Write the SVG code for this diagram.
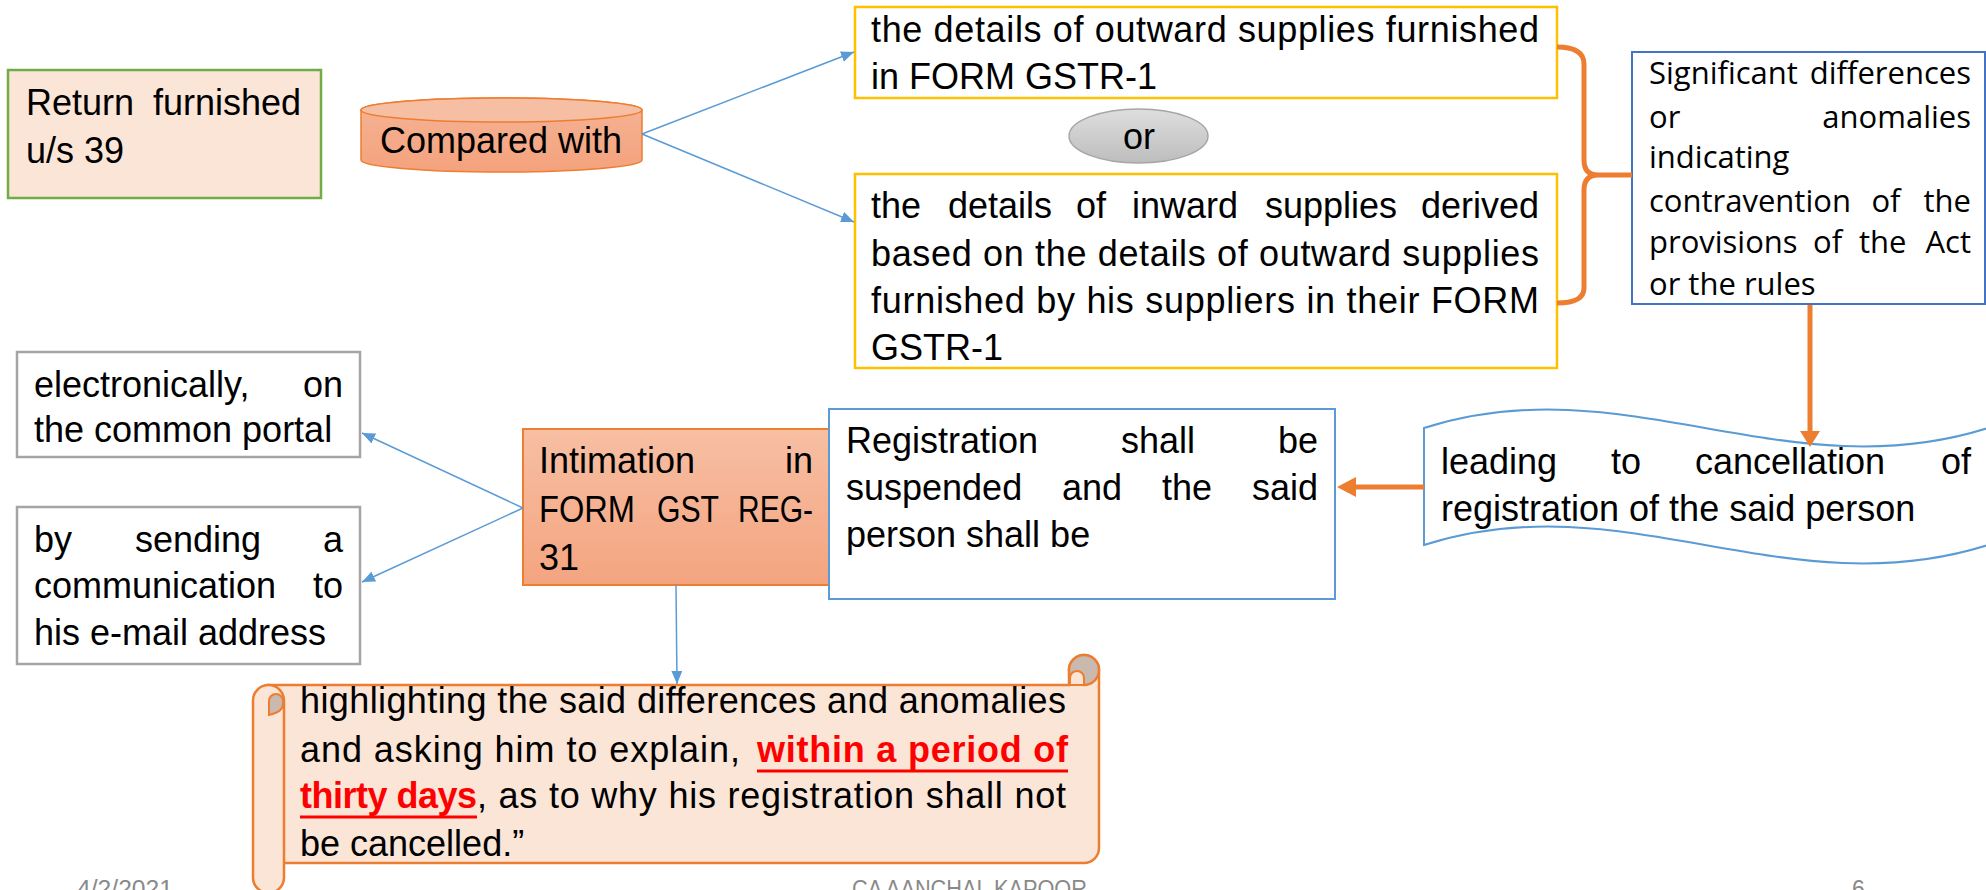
<svg xmlns="http://www.w3.org/2000/svg" width="1986" height="890" viewBox="0 0 1986 890">
<style>
.t{font-family:"Liberation Sans",Arial,sans-serif;font-size:36px;fill:#000}
.s{font-family:"Open Sans","Liberation Sans",sans-serif;font-size:31px;fill:#000}
.e{text-anchor:end}
.m{text-anchor:middle}
.r{font-weight:bold;fill:#FF0000}
.f{font-family:"Liberation Sans",Arial,sans-serif;font-size:23px;fill:#898989}
.bl{stroke:#5B9BD5;stroke-width:1.5;fill:none}
.og{stroke:#ED7D31;stroke-width:5;fill:none}
.ul{stroke:#FF0000;stroke-width:3}
.sc{fill:#FBE5D6;stroke:#ED7D31;stroke-width:2.5}
</style>
<defs>
<linearGradient id="gO" x1="0" y1="0" x2="0" y2="1">
<stop offset="0" stop-color="#F7BFA3"/><stop offset="1" stop-color="#F4A47F"/>
</linearGradient>
<linearGradient id="gC" x1="0" y1="0" x2="0" y2="1">
<stop offset="0" stop-color="#F5B496"/><stop offset="1" stop-color="#F4A27C"/>
</linearGradient>
<linearGradient id="gG" x1="0" y1="0" x2="0" y2="1">
<stop offset="0" stop-color="#DEDEDE"/><stop offset="1" stop-color="#BDBDBD"/>
</linearGradient>
<marker id="ab" viewBox="0 0 12 10" refX="12" refY="5" markerWidth="13" markerHeight="11" markerUnits="userSpaceOnUse" orient="auto" preserveAspectRatio="none">
<path d="M0,0 L12,5 L0,10 Z" fill="#5B9BD5"/>
</marker>
</defs>

<g id="return">
<rect x="8" y="70" width="313" height="128" fill="#FBE5D6" stroke="#70AD47" stroke-width="2.5"/>
<text class="t" x="26" y="115">Return</text><text class="t e" x="301" y="115">furnished</text>
<text class="t" x="26" y="163">u/s 39</text>
</g>

<g id="compared">
<path d="M361,110 A140.5,12 0 0 1 642,110 V160 A140.5,12 0 0 1 361,160 Z" fill="url(#gC)" stroke="#ED7D31" stroke-width="1.5"/>
<ellipse cx="501.5" cy="110" rx="140.5" ry="12" fill="#F6BEA3" stroke="#ED7D31" stroke-width="1.5"/>
<text class="t m" x="501" y="153">Compared with</text>
</g>

<g id="outward">
<rect x="855" y="7" width="702" height="91" fill="#fff" stroke="#FFC000" stroke-width="2.5"/>
<text class="t" x="871" y="42" textLength="668" lengthAdjust="spacing">the details of outward supplies furnished</text>
<text class="t" x="871" y="89">in FORM GSTR-1</text>
</g>

<g id="or">
<ellipse cx="1138.5" cy="136" rx="69.5" ry="27" fill="url(#gG)" stroke="#A6A6A6" stroke-width="1.5"/>
<text class="t m" x="1139" y="149">or</text>
</g>

<g id="inward">
<rect x="855" y="174" width="702" height="194" fill="#fff" stroke="#FFC000" stroke-width="2.5"/>
<text class="t" y="218"><tspan x="871">the</tspan><tspan x="948">details</tspan><tspan x="1076">of</tspan><tspan x="1132">inward</tspan><tspan x="1265">supplies</tspan></text>
<text class="t e" x="1539" y="218">derived</text>
<text class="t" x="871" y="266" textLength="668" lengthAdjust="spacing">based on the details of outward supplies</text>
<text class="t" x="871" y="313" textLength="668" lengthAdjust="spacing">furnished by his suppliers in their FORM</text>
<text class="t" x="871" y="360">GSTR-1</text>
</g>

<g id="significant">
<rect x="1632" y="52" width="353" height="252" fill="#fff" stroke="#4472C4" stroke-width="2"/>
<text class="s" x="1649" y="84">Significant</text><text class="s e" x="1971" y="84">differences</text>
<text class="s" x="1649" y="128">or</text><text class="s e" x="1971" y="128">anomalies</text>
<text class="s" x="1649" y="168">indicating</text>
<text class="s" x="1649" y="212">contravention</text><text class="s m" x="1886" y="212">of</text><text class="s e" x="1971" y="212">the</text>
<text class="s" y="253"><tspan x="1649">provisions</tspan><tspan x="1813">of</tspan><tspan x="1859">the</tspan></text><text class="s e" x="1971" y="253">Act</text>
<text class="s" x="1649" y="295">or the rules</text>
</g>

<g id="leading">
<path d="M1424,428 C1624,364 1786,492 1988,428 L1988,545 C1786,609 1624,481 1424,545 Z" fill="#fff" stroke="#5B9BD5" stroke-width="2"/>
<text class="t" y="474"><tspan x="1441">leading</tspan><tspan x="1611">to</tspan><tspan x="1695">cancellation</tspan></text><text class="t e" x="1971" y="474">of</text>
<text class="t" x="1441" y="521">registration of the said person</text>
</g>

<g id="intimation">
<rect x="523" y="429" width="307" height="156" fill="url(#gO)" stroke="#ED7D31" stroke-width="2"/>
<text class="t" x="539" y="473">Intimation</text><text class="t e" x="813" y="473">in</text>
<text class="t" x="539" y="522" textLength="96" lengthAdjust="spacingAndGlyphs">FORM</text>
<text class="t" x="657" y="522" textLength="62" lengthAdjust="spacingAndGlyphs">GST</text>
<text class="t" x="738" y="522" textLength="75" lengthAdjust="spacingAndGlyphs">REG-</text>
<text class="t" x="539" y="570">31</text>
</g>

<g id="registration">
<rect x="829" y="409" width="506" height="190" fill="#fff" stroke="#5B9BD5" stroke-width="2"/>
<text class="t" y="453"><tspan x="846">Registration</tspan><tspan x="1121">shall</tspan></text><text class="t e" x="1318" y="453">be</text>
<text class="t" y="500"><tspan x="846">suspended</tspan><tspan x="1062">and</tspan><tspan x="1162">the</tspan></text><text class="t e" x="1318" y="500">said</text>
<text class="t" x="846" y="547">person shall be</text>
</g>

<g id="electronically">
<rect x="17" y="352" width="343" height="105" fill="#fff" stroke="#A5A5A5" stroke-width="2.5"/>
<text class="t" x="34" y="397">electronically,</text><text class="t e" x="343" y="397">on</text>
<text class="t" x="34" y="442">the common portal</text>
</g>

<g id="email">
<rect x="17" y="507" width="343" height="157" fill="#fff" stroke="#A5A5A5" stroke-width="2.5"/>
<text class="t" y="552"><tspan x="34">by</tspan><tspan x="135">sending</tspan></text><text class="t e" x="343" y="552">a</text>
<text class="t" x="34" y="598">communication</text><text class="t e" x="343" y="598">to</text>
<text class="t" x="34" y="645">his e-mail address</text>
</g>

<g id="scroll">
<path class="sc" d="M268,685 H1069 V670 A15,15 0 0 1 1099,670 V848 A15,15 0 0 1 1084,863 H268 Z"/>
<rect class="sc" x="253" y="685" width="31" height="208" rx="15.5" ry="15.5"/>
<path d="M269,715 V701 A7,7 0 0 1 283,701 V704 Q283,712 269,715 Z" fill="#C9B9AF" stroke="#ED7D31" stroke-width="2"/>
<circle cx="1084" cy="670" r="15" fill="#C9B9AF" stroke="#ED7D31" stroke-width="2.5"/>
<path d="M1070,685 V678 A7,7 0 0 1 1084,678 V685 Z" fill="#FBE5D6" stroke="#ED7D31" stroke-width="2"/>
<text class="t" x="300" y="713" textLength="766" lengthAdjust="spacing">highlighting the said differences and anomalies</text>
<text class="t" x="300" y="762" textLength="440" lengthAdjust="spacing">and asking him to explain,</text>
<text class="t r" x="757" y="762" textLength="311" lengthAdjust="spacing">within a period of</text>
<line class="ul" x1="757" y1="771" x2="1068" y2="771"/>
<text class="t r" x="300" y="808" textLength="177" lengthAdjust="spacing">thirty days</text>
<line class="ul" x1="300" y1="817" x2="477" y2="817"/>
<text class="t" x="477" y="808" textLength="589" lengthAdjust="spacing">, as to why his registration shall not</text>
<text class="t" x="300" y="856">be cancelled.”</text>
</g>

<g id="connectors">
<line class="bl" x1="642" y1="134" x2="854" y2="52" marker-end="url(#ab)"/>
<line class="bl" x1="642" y1="134" x2="854" y2="222" marker-end="url(#ab)"/>
<line class="bl" x1="523" y1="508" x2="362" y2="433" marker-end="url(#ab)"/>
<line class="bl" x1="523" y1="508" x2="362" y2="582" marker-end="url(#ab)"/>
<line class="bl" x1="676" y1="585" x2="677" y2="684" marker-end="url(#ab)"/>
<path class="og" d="M1557,47 C1574,47 1584,52 1584,64 V160 Q1584,175 1598,175 H1632 M1598,175 Q1584,175 1584,190 V288 C1584,298 1574,303 1557,303"/>
<line class="og" x1="1810" y1="305" x2="1810" y2="434"/>
<polygon points="1800,431 1820,431 1810,447" fill="#ED7D31"/>
<line class="og" x1="1424" y1="487" x2="1354" y2="487"/>
<polygon points="1356,477 1356,497 1337,487" fill="#ED7D31"/>
</g>

<g id="footer">
<text class="f" x="77" y="897" textLength="96" lengthAdjust="spacingAndGlyphs">4/2/2021</text>
<text class="f" x="852" y="897" textLength="235" lengthAdjust="spacingAndGlyphs">CA AANCHAL KAPOOR</text>
<text class="f" x="1852" y="897">6</text>
</g>
</svg>
